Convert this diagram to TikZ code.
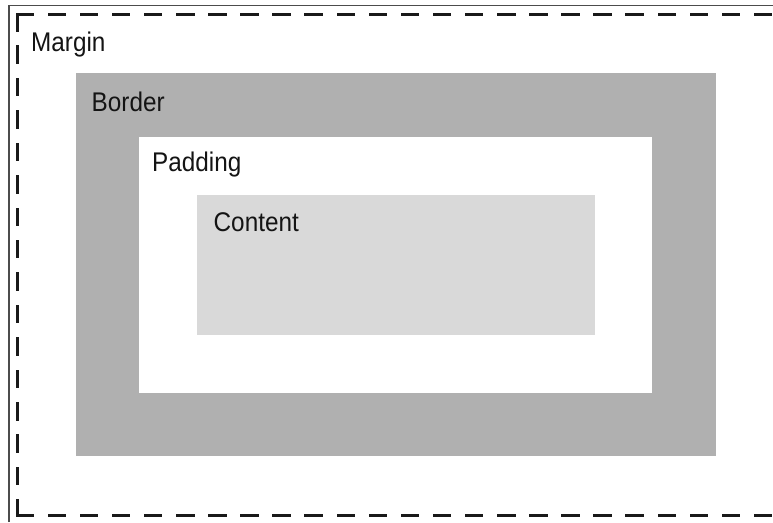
\documentclass[tikz,border=0pt]{standalone}
\usepackage{fontspec}
\setmainfont[FakeStretch=0.9]{Liberation Sans}
\definecolor{bordergray}{RGB}{176,176,176}
\definecolor{contentgray}{RGB}{217,217,217}
\definecolor{textdark}{RGB}{20,20,20}
\begin{document}
\begin{tikzpicture}[x=1pt,y=-1pt,
  boxlabel/.style={anchor=base west,inner sep=0pt,text=textdark,font=\fontsize{27pt}{30pt}\selectfont},
  dashside/.style={line width=3pt,draw=black!90,line cap=rect,dash pattern=on 15.5pt off 16.6pt},
  dashleft/.style={line width=3pt,draw=black!90,line cap=rect,dash pattern=on 15.5pt off 16.92pt}]
\useasboundingbox (0,0) rectangle (773,522);
\fill[white] (0,0) rectangle (773,522);
% thin outer frame (top and left visible)
\draw[line width=1.3pt,draw=black!70] (9,522) -- (9,5.5) -- (773,5.5);
% margin dashed outline
\coordinate (mtl) at (17,14.5);
\coordinate (mbl) at (17,515.5);
\coordinate (mtr) at (780,14.5);
\coordinate (mbr) at (780,515.5);
\begin{scope}
\clip (0,0) rectangle (773,522);
\draw[dashside] (mtl) -- (mtr);
\draw[dashside] (mbl) -- (mbr);
\draw[dashleft] (mtl) -- (mbl);
\end{scope}
% border
\fill[bordergray] (76,73) rectangle (716,456);
% padding
\fill[white] (139,136.5) rectangle (652,393);
% content
\fill[contentgray] (197,194.5) rectangle (595,335);
% labels
\node[boxlabel] (margin) at (31,51) {Margin};
\node[boxlabel] (border) at (91.5,111) {Border};
\node[boxlabel] (padding) at (152,171) {Padding};
\node[boxlabel] (content) at (213.5,231) {Content};
\end{tikzpicture}
\end{document}
